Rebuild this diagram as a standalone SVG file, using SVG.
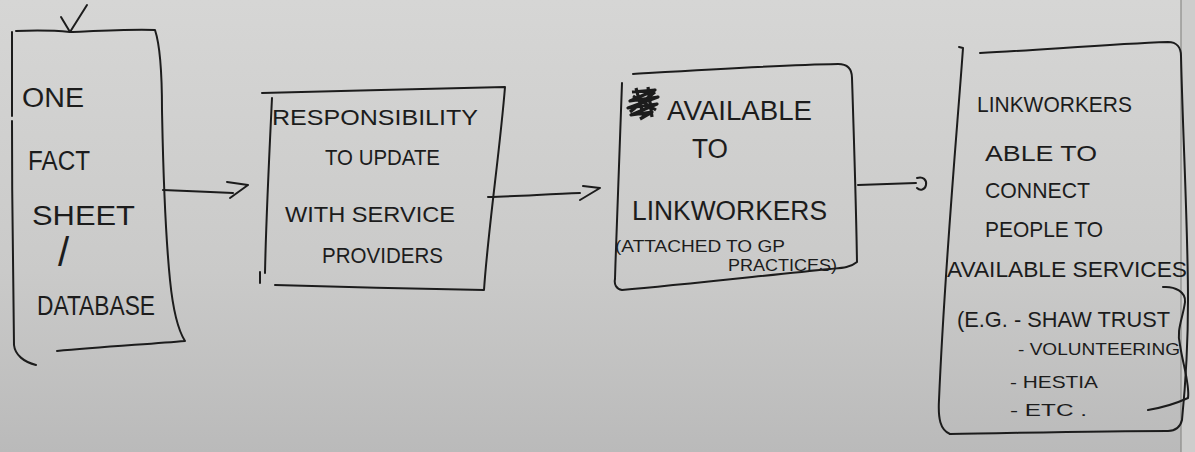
<svg xmlns="http://www.w3.org/2000/svg" width="1195" height="452" viewBox="0 0 1195 452">
<defs>
<linearGradient id="paper" x1="0" y1="0" x2="0" y2="1">
<stop offset="0" stop-color="#d6d6d5"/>
<stop offset="0.6" stop-color="#cacac9"/>
<stop offset="1" stop-color="#bababa"/>
</linearGradient>
<style>
.ink{fill:none;stroke:#1c1c1c;stroke-width:2;stroke-linecap:round;stroke-linejoin:round}
.t{font-family:"Liberation Sans","DejaVu Sans",sans-serif;fill:#1c1c1c;font-weight:normal}
.big{font-size:27px}
.mid{font-size:22px}
.sm{font-size:17px}
</style>
</defs>
<rect x="0" y="0" width="1195" height="452" fill="url(#paper)"/>
<rect x="1181" y="0" width="14" height="452" fill="#cdcdcc"/>
<line x1="1181" y1="0" x2="1181" y2="452" stroke="#8a8a88" stroke-width="1.2"/>

<g id="node-fact-sheet">
<path class="ink" d="M16,31 C40,30 60,31 70,32 C95,31 130,29 155,30 C160,45 162,70 162,110 C163,160 164,220 170,280 C173,310 178,330 185,341 C150,344 100,347 57,351"/>
<path class="ink" d="M12,32 L12,116 M12,121 C12,200 13,300 14,345 C15,355 24,362 36,365"/>
<path class="ink" d="M61,17 L70,32 L87,5"/>
<text class="t big" x="22" y="107" textLength="62" lengthAdjust="spacingAndGlyphs">ONE</text>
<text class="t big" x="28" y="170" textLength="62" lengthAdjust="spacingAndGlyphs">FACT</text>
<text class="t big" x="32" y="225" textLength="103" lengthAdjust="spacingAndGlyphs">SHEET</text>
<text class="t" style="font-size:40px" x="58" y="266">/</text>
<text class="t big" x="37" y="315" textLength="118" lengthAdjust="spacingAndGlyphs">DATABASE</text>
</g>

<g id="node-responsibility">
<path class="ink" d="M262,93 C340,91 430,89 505,87 C500,150 488,230 484,290 C420,289 340,287 275,285"/>
<path class="ink" d="M272,98 C269,160 266,220 265,273 M260,272 L260,283"/>
<text class="t mid" x="272" y="125" textLength="206" lengthAdjust="spacingAndGlyphs">RESPONSIBILITY</text>
<text class="t mid" x="325" y="165" textLength="115" lengthAdjust="spacingAndGlyphs">TO UPDATE</text>
<text class="t mid" x="285" y="222" textLength="170" lengthAdjust="spacingAndGlyphs">WITH SERVICE</text>
<text class="t mid" x="322" y="263" textLength="121" lengthAdjust="spacingAndGlyphs">PROVIDERS</text>
</g>

<g id="node-available">
<path class="ink" d="M633,74 C700,70 780,65 838,64 C848,64 852,70 852,78 C854,140 856,200 857,262 C850,268 840,268 830,269 C760,276 680,285 622,290 C616,289 614,284 615,279 C617,210 620,140 622,83"/>
<path d="M632,92 L655,90 L630,101 L658,97 L628,108 L657,104 L631,115 L652,112 L640,119 M636,88 L644,118 M648,87 L652,117 M633,96 L656,110 M655,92 L630,112" fill="none" stroke="#1c1c1c" stroke-width="3.2" stroke-linejoin="round"/>
<text class="t big" x="667" y="120" textLength="145" lengthAdjust="spacingAndGlyphs">AVAILABLE</text>
<text class="t big" x="692" y="158" textLength="36" lengthAdjust="spacingAndGlyphs">TO</text>
<text class="t big" x="632" y="220" textLength="195" lengthAdjust="spacingAndGlyphs">LINKWORKERS</text>
<text class="t sm" x="615" y="252" textLength="170" lengthAdjust="spacingAndGlyphs">(ATTACHED TO GP</text>
<text class="t sm" x="728" y="271" textLength="109" lengthAdjust="spacingAndGlyphs">PRACTICES)</text>
</g>

<g id="node-linkworkers">
<path class="ink" d="M980,53 C1040,50 1110,44 1168,42 C1177,42 1181,48 1181,56 C1183,140 1188,230 1188,300 C1188,360 1184,400 1182,420 C1180,428 1175,431 1168,431 C1100,431 1020,433 950,434"/>
<path class="ink" d="M959,47 L963,48 C958,120 945,260 939,400 C938,418 940,430 950,434"/>
<path class="ink" d="M1163,287 C1175,286 1186,292 1185,302 C1183,318 1176,330 1180,345 C1183,365 1190,385 1188,398 C1175,404 1160,408 1148,410"/>
<text class="t mid" x="977" y="112" textLength="155" lengthAdjust="spacingAndGlyphs">LINKWORKERS</text>
<text class="t mid" x="985" y="161" textLength="112" lengthAdjust="spacingAndGlyphs">ABLE TO</text>
<text class="t mid" x="985" y="198" textLength="105" lengthAdjust="spacingAndGlyphs">CONNECT</text>
<text class="t mid" x="985" y="237" textLength="118" lengthAdjust="spacingAndGlyphs">PEOPLE TO</text>
<text class="t mid" x="947" y="277" textLength="240" lengthAdjust="spacingAndGlyphs">AVAILABLE SERVICES</text>
<text class="t mid" x="957" y="327" textLength="213" lengthAdjust="spacingAndGlyphs">(E.G. - SHAW TRUST</text>
<text class="t sm" x="1018" y="355" textLength="162" lengthAdjust="spacingAndGlyphs">- VOLUNTEERING</text>
<text class="t sm" x="1010" y="388" textLength="88" lengthAdjust="spacingAndGlyphs">- HESTIA</text>
<text class="t sm" x="1010" y="416" textLength="77" lengthAdjust="spacingAndGlyphs">- ETC .</text>
</g>

<g id="connectors">
<path class="ink" d="M163,190 C185,191 210,192 233,193"/>
<path class="ink" d="M227,182 L248,185 L230,198"/>
<path class="ink" d="M488,197 C520,196 550,194 580,193"/>
<path class="ink" d="M583,186 L600,188 L580,200"/>
<path class="ink" d="M858,185 L916,183"/>
<path class="ink" d="M917,178 C923,176 927,180 926,185 C925,190 920,191 917,188"/>
</g>
</svg>
